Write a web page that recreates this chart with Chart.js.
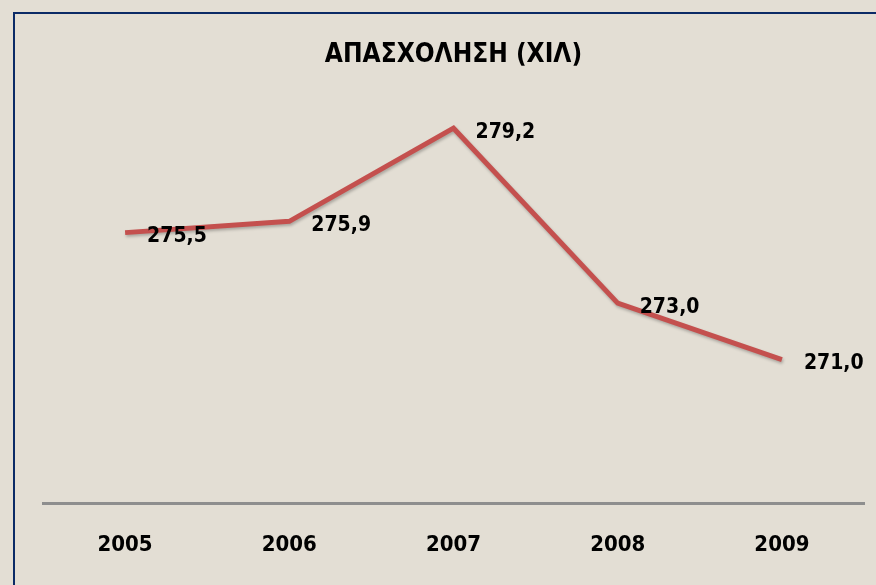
<!DOCTYPE html>
<html>
<head>
<meta charset="utf-8">
<script src="https://cdn.jsdelivr.net/npm/chart.js@4.4.0/dist/chart.umd.min.js"></script>
<style>
  html, body { margin: 0; padding: 0; }
  body { width: 876px; height: 585px; background: #e3ded4; position: relative; overflow: hidden; }
  .frame { position: absolute; left: 13px; top: 12px; right: -10px; bottom: -10px;
           border-left: 2px solid #0b2a66; border-top: 2px solid #0b2a66; }
  .wrap { position: absolute; left: 31px; top: 0; width: 845px; height: 585px; }
</style>
</head>
<body>
<div class="frame"></div>
<div class="wrap"><canvas id="empChart" width="845" height="585"></canvas></div>
<script>
// Data
const years = ['2005', '2006', '2007', '2008', '2009'];
const employment = [275.5, 275.9, 279.2, 273.0, 271.0];
const chartTitle = 'ΑΠΑΣΧΟΛΗΣΗ (ΧΙΛ)';

const fontFamily = '"DejaVu Sans Condensed", "DejaVu Sans", sans-serif';

// Draws the value next to each point (Greek decimal comma)
const valueLabels = {
    id: 'valueLabels',
    afterDatasetsDraw(chart) {
        const ctx = chart.ctx;
        const meta = chart.getDatasetMeta(0);
        ctx.save();
        ctx.font = 'bold 21px ' + fontFamily;
        ctx.fillStyle = '#000';
        ctx.textAlign = 'left';
        ctx.textBaseline = 'middle';
        meta.data.forEach((pt, i) => {
            const txt = employment[i].toFixed(1).replace('.', ',');
            ctx.fillText(txt, pt.x + 22, pt.y + 4);
        });
        ctx.restore();
    }
};

// soft shadow under the line
const lineShadow = {
    id: 'lineShadow',
    beforeDatasetDraw(chart) {
        const ctx = chart.ctx;
        ctx.save();
        ctx.shadowColor = 'rgba(0,0,0,0.25)';
        ctx.shadowBlur = 3;
        ctx.shadowOffsetX = 1;
        ctx.shadowOffsetY = 2;
    },
    afterDatasetDraw(chart) {
        chart.ctx.restore();
    }
};

new Chart(document.getElementById('empChart'), {
    type: 'line',
    data: {
        labels: years,
        datasets: [{
            data: employment,
            borderColor: '#c4504e',
            borderWidth: 5,
            pointRadius: 0,
            tension: 0,
            fill: false
        }]
    },
    options: {
        responsive: false,
        animation: false,
        devicePixelRatio: 1,
        layout: { padding: { left: 12, right: 12, top: 0, bottom: -1 } },
        plugins: {
            legend: { display: false },
            tooltip: { enabled: false },
            title: {
                display: true,
                text: chartTitle,
                color: '#000',
                font: { family: fontFamily, size: 26, weight: 'bold', lineHeight: 1.2 },
                padding: { top: 40, bottom: 9 }
            }
        },
        scales: {
            x: {
                offset: true,
                grid: { display: false, drawTicks: false },
                border: { display: true, color: '#8e8e8e', width: 3 },
                ticks: {
                    color: '#000',
                    padding: 28,
                    font: { family: fontFamily, size: 22, weight: 'bold' }
                }
            },
            y: {
                display: false,
                min: 265.9,
                max: 280.9
            }
        }
    },
    plugins: [lineShadow, valueLabels]
});
</script>
</body>
</html>
